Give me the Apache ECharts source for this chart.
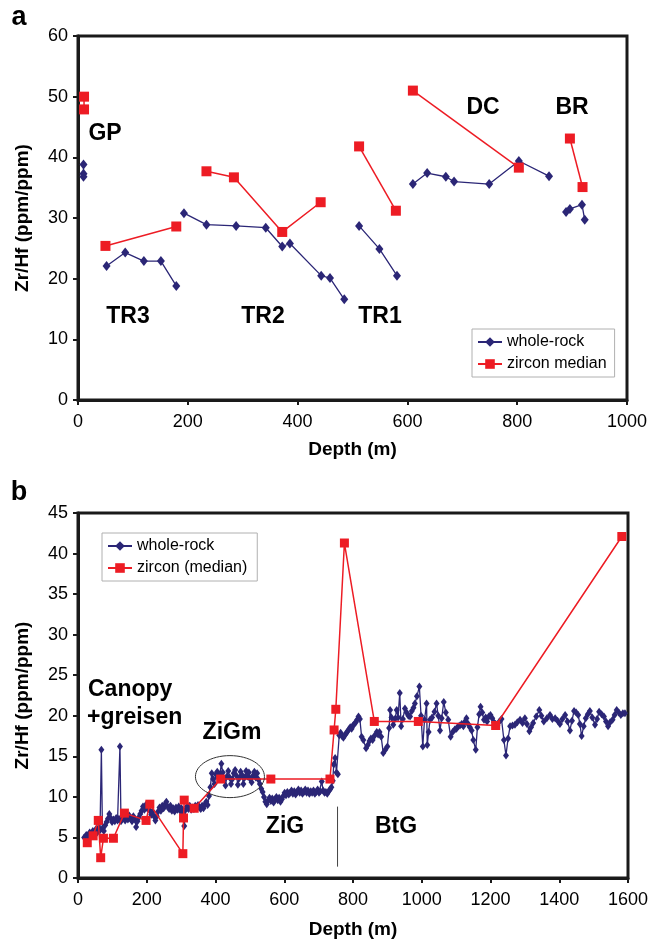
<!DOCTYPE html>
<html>
<head>
<meta charset="utf-8">
<script src="https://cdn.jsdelivr.net/npm/echarts@6/dist/echarts.min.js"></script>
<style>
html,body{margin:0;padding:0;background:#fff;}
#c{width:657px;height:944px;}
</style>
</head>
<body>
<div id="c"></div>
<script>
// ---------- Panel a data ----------
const ticksA_x = [0, 200, 400, 600, 800, 1000];
const ticksA_y = [0, 10, 20, 30, 40, 50, 60];
// whole-rock groups [depth, Zr/Hf]
const wrGP  = [[10,38.8],[10,37.3],[10,36.8]];
const wrTR3 = [[52,22.1],[86,24.3],[120,22.9],[151,22.9],[179,18.8]];
const wrTR2 = [[193,30.8],[234,28.9],[288,28.7],[342,28.4],[372,25.3],[386,25.8],[443,20.5],[459,20.1],[485,16.6]];
const wrTR1 = [[512,28.7],[549,24.9],[581,20.5]];
const wrDC  = [[610,35.6],[636,37.4],[670,36.8],[685,36.0],[749,35.6],[803,39.4],[858,36.9]];
const wrBR  = [[889,31.0],[896,31.5],[918,32.2],[923,29.7]];
// zircon median groups
const zrGP  = [[11,50.0],[11,47.9]];
const zrTR3 = [[50,25.4],[179,28.6]];
const zrTR2 = [[234,37.7],[284,36.7],[372,27.7],[442,32.6]];
const zrTR1 = [[512,41.8],[579,31.2]];
const zrDC  = [[610,51.0],[803,38.3]];
const zrBR  = [[896,43.1],[919,35.1]];

// ---------- Panel b data ----------
const ticksB_x = [0, 200, 400, 600, 800, 1000, 1200, 1400, 1600];
const ticksB_y = [0, 5, 10, 15, 20, 25, 30, 35, 40, 45];
const wrB = [
[18,5.0],[24,5.3],[29,5.1],[34,5.6],[38,5.3],[43,5.8],[47,5.5],[52,6.0],[56,5.6],[60,6.2],[64,5.9],[68,15.8],[71,6.1],[75,5.8],[79,6.5],[83,6.9],[87,7.3],[91,7.9],[95,7.4],[99,6.9],
[103,7.2],[107,7.0],[111,7.4],[115,7.1],[119,7.3],[122,16.2],[125,7.0],[129,7.3],[133,7.6],[137,7.1],[141,7.5],[145,7.2],[149,7.7],[153,7.3],[157,7.0],[161,7.6],[165,7.2],[169,6.3],[173,7.0],[177,7.5],
[181,7.9],[185,8.3],[189,8.8],[193,8.4],[197,9.0],[201,8.6],[205,8.9],[209,8.3],[213,7.8],[217,8.2],[221,7.6],[225,7.1],[229,7.6],[233,8.2],[237,8.7],[241,8.3],[245,8.9],[249,8.6],[253,9.1],[257,9.4],
[261,8.8],[265,8.5],[269,8.9],[273,8.3],[277,8.6],[281,8.2],[285,8.7],[289,8.4],[293,8.8],[297,8.3],[301,8.6],[305,8.1],[309,6.4],[313,8.4],[317,8.8],[321,8.5],[325,8.9],[329,8.4],[333,8.7],[337,8.5],
[341,8.9],[345,8.6],[349,9.0],[353,8.7],[357,8.5],[361,8.9],[365,8.6],[369,9.1],[373,9.4],[377,9.0],[381,10.1],[385,11.2],[389,12.9],[393,12.2],[397,11.6],[401,12.8],[405,13.1],[409,12.3],[413,12.8],[417,14.1],
[421,13.0],[425,12.2],[429,11.4],[433,12.5],[437,13.2],[441,12.4],[445,11.6],[449,12.2],[453,12.9],[457,13.3],[461,12.6],[465,11.5],[469,12.3],[473,13.1],[477,12.7],[481,11.6],[485,12.4],[489,13.2],[493,12.5],[497,13.0],
[501,12.2],[505,11.8],[509,12.6],[513,13.1],[517,12.4],[521,12.9],[525,12.1],[529,11.6],[533,11.0],[537,10.6],[541,10.0],[545,9.4],[549,9.1],[553,9.6],[557,9.9],[561,9.5],[565,9.8],[569,9.3],[573,9.7],[577,10.0],
[581,9.6],[585,9.9],[589,9.4],[593,9.7],[597,10.1],[601,10.5],[605,10.2],[609,10.6],[613,10.3],[617,10.5],[621,10.8],[625,10.4],[629,10.7],[633,10.3],[637,10.6],[641,10.9],[645,10.5],[649,10.8],[653,10.4],[657,10.6],
[661,10.9],[665,10.5],[669,10.8],[673,10.4],[677,10.7],[681,10.5],[685,10.8],[689,10.4],[693,10.6],[697,10.9],[701,10.5],[705,10.7],[709,11.9],[713,10.8],[717,10.5],[721,10.6],[725,10.4],[729,10.7],[733,10.9],[737,11.2],
[741,12.0],[744,14.0],[748,14.8],[752,13.0],[756,12.8],[760,17.6],[764,17.9],[768,17.5],[772,17.3],[776,17.6],[780,17.8],[784,18.1],[788,18.3],[792,18.6],[796,18.4],[800,18.8],[804,19.0],[808,19.2],[812,19.5],[816,19.9],
[820,19.6],[825,17.4],[830,17.0],[838,16.0],[843,16.4],[848,16.9],[852,17.2],[857,17.0],[862,17.5],[869,18.0],[873,17.7],[877,18.0],[882,17.4],[888,15.4],[894,15.8],[900,16.2],[905,18.5],[908,20.7],[912,19.8],[917,18.9],
[922,19.6],[927,20.7],[931,19.8],[936,22.8],[940,18.7],[945,19.6],[951,20.9],[956,20.4],[961,20.0],[966,19.9],[971,20.6],[976,21.0],[980,21.5],[986,22.4],[993,23.6],[998,20.0],[1003,16.2],[1008,19.5],[1014,21.5],[1016,16.4],
[1020,18.0],[1024,19.5],[1030,19.8],[1037,20.5],[1043,21.5],[1048,20.0],[1053,18.2],[1058,19.7],[1064,21.7],[1070,20.4],[1077,19.5],[1084,17.4],[1090,18.0],[1096,18.3],[1101,18.4],[1106,18.7],[1111,18.8],[1116,19.0],[1121,18.7],[1126,19.3],
[1130,19.7],[1135,19.0],[1140,18.6],[1145,18.2],[1150,17.0],[1157,15.8],[1162,18.6],[1167,20.2],[1171,21.1],[1176,20.4],[1181,19.5],[1186,19.8],[1190,19.3],[1195,19.9],[1200,20.1],[1205,19.7],[1210,19.2],[1215,19.0],[1220,18.8],[1226,19.3],
[1232,19.6],[1239,17.0],[1245,15.1],[1251,17.2],[1257,18.7],[1264,18.8],[1271,18.9],[1278,19.2],[1286,19.5],[1293,19.1],[1300,19.7],[1306,19.0],[1313,18.1],[1318,18.6],[1324,19.1],[1333,19.9],[1342,20.7],[1348,20.0],[1355,19.3],[1364,19.7],
[1373,20.1],[1380,19.6],[1388,19.7],[1395,19.4],[1402,19.0],[1409,19.6],[1417,20.1],[1424,19.3],[1431,18.2],[1437,19.4],[1443,20.6],[1449,20.4],[1455,20.1],[1460,19.0],[1465,17.5],[1471,18.7],[1477,19.7],[1483,20.2],[1489,20.6],[1496,19.8],
[1504,18.9],[1510,19.6],[1516,20.5],[1523,20.2],[1530,19.9],[1536,19.3],[1542,18.7],[1548,19.2],[1555,19.5],[1561,20.1],[1567,20.7],[1573,20.4],[1579,20.1],[1585,20.3],[1591,20.3]
];
const zrB = [
[27,4.35],[44,5.2],[59,7.1],[66,2.5],[74,4.9],[103,4.9],[135,8.0],[198,7.1],[209,9.1],[305,3.0],[307,7.4],[309,9.6],[338,8.6],[415,12.2],[561,12.2],[733,12.2],[745,18.25],[750,20.8],[775,41.3],[862,19.3],[990,19.3],[1215,18.8],[1582,42.1]
];
const boundaryB = [[755,1.4],[755,8.8]];
const ellipseB = {center:[442,12.5], rx:34.5, ry:21};

// ---------- styling ----------
const FONT = "'Liberation Sans', Arial, sans-serif";
const NAVY = '#2b2676';
const RED = '#ed1c24';

function axisCommon(isX){
  return {
    axisLine:{show:true, lineStyle:{color:'#1a1a1a', width:3}},
    axisTick:{show:true, inside:false, length:5, lineStyle:{color:'#1a1a1a', width:2}},
    splitLine:{show:false},
    axisLabel:{color:'#000', fontFamily:FONT, fontSize:18, margin: isX ? 13 : 10,
      formatter: v => String(v)},
    nameTextStyle:{color:'#000', fontFamily:FONT, fontSize:19, fontWeight:'bold'}
  };
}

function wrSeries(data, xi, yi, size, name){
  return {type:'line', name:name, xAxisIndex:xi, yAxisIndex:yi, data:data,
    symbol:'diamond', symbolSize:size, showSymbol:true,
    itemStyle:{color:NAVY}, lineStyle:{color:NAVY, width:1.3}, animation:false, z:2};
}
function zrSeries(data, xi, yi, size, name){
  return {type:'line', name:name, xAxisIndex:xi, yAxisIndex:yi, data:data,
    symbol:'rect', symbolSize:size, showSymbol:true,
    itemStyle:{color:RED}, lineStyle:{color:RED, width:1.5}, animation:false, z:3};
}

const chart = echarts.init(document.getElementById('c'), null, {renderer:'canvas'});

const series = [];
[wrGP, wrTR3, wrTR2, wrTR1, wrDC, wrBR].forEach(d => series.push(wrSeries(d,0,0,[8,10],'whole-rock')));
[zrGP, zrTR3, zrTR2, zrTR1, zrDC, zrBR].forEach(d => series.push(zrSeries(d,0,0,10,'zircon median')));
series.push(wrSeries(wrB,1,1,[6,8],'whole-rock'));
series.push(zrSeries(zrB,1,1,9,'zircon (median)'));
series.push({type:'line', name:'boundary', xAxisIndex:1, yAxisIndex:1, data:boundaryB, symbol:'none',
  lineStyle:{color:'#444', width:1}, animation:false, silent:true, z:1});

function lbl(text, x, y, size){
  return {type:'text', x:x, y:y, style:{text:text, fill:'#000', font:'bold '+size+'px '+FONT, textAlign:'center', textVerticalAlign:'middle'}};
}

const option = {
  backgroundColor:'#fff',
  animation:false,
  textStyle:{fontFamily:FONT},
  grid:[
    {left:78, top:36, width:549, height:364, show:true, borderColor:'#1a1a1a', borderWidth:3, backgroundColor:'transparent'},
    {left:78, top:513, width:550, height:365, show:true, borderColor:'#1a1a1a', borderWidth:3, backgroundColor:'transparent'}
  ],
  xAxis:[
    Object.assign(axisCommon(true), {type:'value', gridIndex:0, min:ticksA_x[0], max:ticksA_x[ticksA_x.length-1], interval:200,
      name:'Depth (m)', nameLocation:'middle', nameGap:40}),
    Object.assign(axisCommon(true), {type:'value', gridIndex:1, min:ticksB_x[0], max:ticksB_x[ticksB_x.length-1], interval:200,
      name:'Depth (m)', nameLocation:'middle', nameGap:42})
  ],
  yAxis:[
    Object.assign(axisCommon(false), {type:'value', gridIndex:0, min:ticksA_y[0], max:ticksA_y[ticksA_y.length-1], interval:10,
      name:'Zr/Hf (ppm/ppm)', nameLocation:'middle', nameGap:46}),
    Object.assign(axisCommon(false), {type:'value', gridIndex:1, min:ticksB_y[0], max:ticksB_y[ticksB_y.length-1], interval:5,
      name:'Zr/Hf (ppm/ppm)', nameLocation:'middle', nameGap:46})
  ],
  legend:[
    {data:['whole-rock','zircon median'], orient:'vertical', left:472, top:329,
     itemWidth:24, itemHeight:12, itemGap:6, padding:[5,8,5,5],
     borderColor:'#b0b0b0', borderWidth:1, backgroundColor:'#fff',
     textStyle:{fontFamily:FONT, fontSize:16, color:'#000'}, selectedMode:false},
    {data:['whole-rock','zircon (median)'], orient:'vertical', left:102, top:533,
     itemWidth:24, itemHeight:12, itemGap:6, padding:[5,10,5,5],
     borderColor:'#b0b0b0', borderWidth:1, backgroundColor:'#fff',
     textStyle:{fontFamily:FONT, fontSize:16, color:'#000'}, selectedMode:false}
  ],
  series:series,
  graphic:[
    lbl('a', 19, 18, 27),
    lbl('b', 19, 493, 27),
    lbl('GP', 105, 134, 23),
    lbl('TR3', 128, 317, 23),
    lbl('TR2', 263, 317, 23),
    lbl('TR1', 380, 317, 23),
    lbl('DC', 483, 108, 23),
    lbl('BR', 572, 108, 23),
    {type:'text', x:88, y:690, style:{text:'Canopy', fill:'#000', font:'bold 23px '+FONT, textAlign:'left', textVerticalAlign:'middle'}},
    {type:'text', x:87, y:718, style:{text:'+greisen', fill:'#000', font:'bold 23px '+FONT, textAlign:'left', textVerticalAlign:'middle'}},
    lbl('ZiGm', 232, 733, 23),
    lbl('ZiG', 285, 827, 23),
    lbl('BtG', 396, 827, 23)
  ]
};
chart.setOption(option);

// ellipse annotation around ZiGm, positioned from data coordinates
const cp = chart.convertToPixel({gridIndex:1}, ellipseB.center);
chart.setOption({graphic: option.graphic.concat([{
  type:'ellipse', shape:{cx:cp[0], cy:cp[1], rx:ellipseB.rx, ry:ellipseB.ry},
  style:{fill:'none', stroke:'#333', lineWidth:1}, z:10
}])});
</script>
</body>
</html>
